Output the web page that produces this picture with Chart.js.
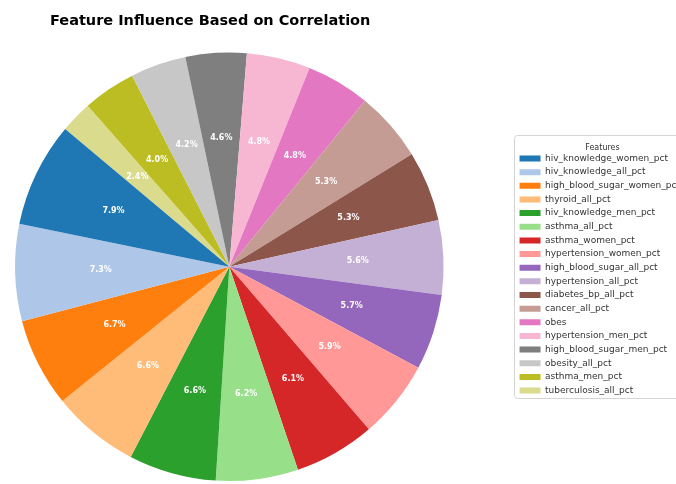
<!DOCTYPE html>
<html>
<head>
<meta charset="utf-8">
<title>Feature Influence Based on Correlation</title>
<script src="https://cdn.jsdelivr.net/npm/chart.js@4"></script>
<style>
  html, body { margin: 0; padding: 0; background: #fff; }
  #wrap { width: 676px; height: 484px; position: relative; }
</style>
</head>
<body>
<div id="wrap"><canvas id="pieChart"></canvas></div>
<script>
const features = [
  'hiv_knowledge_women_pct',
  'hiv_knowledge_all_pct',
  'high_blood_sugar_women_pct',
  'thyroid_all_pct',
  'hiv_knowledge_men_pct',
  'asthma_all_pct',
  'asthma_women_pct',
  'hypertension_women_pct',
  'high_blood_sugar_all_pct',
  'hypertension_all_pct',
  'diabetes_bp_all_pct',
  'cancer_all_pct',
  'obes',
  'hypertension_men_pct',
  'high_blood_sugar_men_pct',
  'obesity_all_pct',
  'asthma_men_pct',
  'tuberculosis_all_pct'
];

// share of total correlation, percent
const influence = [7.9, 7.3, 6.7, 6.6, 6.6, 6.2, 6.1, 5.9, 5.7, 5.6, 5.3, 5.3, 4.8, 4.8, 4.6, 4.2, 4.0, 2.4];

// tab20
const palette = [
  '#1f77b4', '#aec7e8', '#ff7f0e', '#ffbb78', '#2ca02c', '#98df8a',
  '#d62728', '#ff9896', '#9467bd', '#c5b0d5', '#8c564b', '#c49c94',
  '#e377c2', '#f7b6d2', '#7f7f7f', '#c7c7c7', '#bcbd22', '#dbdb8d'
];

const FONT = '"DejaVu Sans", "Liberation Sans", sans-serif';
const PIE_LEFT = 15;

// slices go counter-clockwise from 140deg, so feed them in reverse
const rev = arr => arr.slice().reverse();

// keep the pie in a square box on the left, legend stays where layout put it
const squarePie = {
  id: 'squarePie',
  afterLayout(chart) {
    const a = chart.chartArea;
    a.left = PIE_LEFT;
    a.right = a.left + a.height;
    a.width = a.height;
  }
};

// percentage text inside each wedge
const pctLabels = {
  id: 'pctLabels',
  afterDatasetsDraw(chart) {
    const ctx = chart.ctx;
    const meta = chart.getDatasetMeta(0);
    const values = chart.data.datasets[0].data;
    const total = values.reduce((s, v) => s + v, 0);
    ctx.save();
    ctx.font = 'bold 8px ' + FONT;
    ctx.fillStyle = '#ffffff';
    ctx.textAlign = 'center';
    ctx.textBaseline = 'middle';
    meta.data.forEach((arc, i) => {
      const p = arc.getProps(['x', 'y', 'startAngle', 'endAngle', 'outerRadius'], true);
      const mid = (p.startAngle + p.endAngle) / 2;
      const r = p.outerRadius * 0.6;
      const txt = (values[i] / total * 100).toFixed(1) + '%';
      ctx.fillText(txt, p.x + Math.cos(mid) * r, p.y + Math.sin(mid) * r);
    });
    ctx.restore();
  }
};

// thin rounded frame around the legend
const legendFrame = {
  id: 'legendFrame',
  afterDraw(chart) {
    const lg = chart.legend;
    const hb = lg.legendHitBoxes;
    if (!hb || !hb.length) return;
    const last = hb[hb.length - 1];
    const x = lg.left - 1;
    const y = hb[0].top - 19;
    const w = chart.width - x + 10;
    const h = last.top + last.height + 3 - y;
    const ctx = chart.ctx;
    ctx.save();
    ctx.strokeStyle = '#d4d4d4';
    ctx.lineWidth = 1;
    ctx.beginPath();
    ctx.roundRect(Math.round(x) + 0.5, Math.round(y) + 0.5, w, Math.round(h), 3);
    ctx.stroke();
    ctx.restore();
  }
};

const ctx = document.getElementById('pieChart').getContext('2d');
new Chart(ctx, {
  type: 'pie',
  data: {
    labels: rev(features),
    datasets: [{
      data: rev(influence),
      backgroundColor: rev(palette),
      borderWidth: 0
    }]
  },
  options: {
    responsive: true,
    maintainAspectRatio: false,
    animation: false,
    events: [],
    rotation: -50,
    layout: {
      padding: { left: 50, right: -14, top: 0, bottom: 3 }
    },
    plugins: {
      title: {
        display: true,
        text: 'Feature Influence Based on Correlation',
        align: 'start',
        color: '#000',
        font: { family: FONT, size: 14.5, weight: 'bold' },
        padding: { top: 13, bottom: 22 }
      },
      legend: {
        position: 'right',
        fullSize: false,
        reverse: true,
        title: {
          display: true,
          text: 'Features',
          color: '#333',
          font: { family: FONT, size: 8 },
          padding: { top: 10, bottom: -4 }
        },
        labels: {
          color: '#333',
          font: { family: FONT, size: 9 },
          boxWidth: 21,
          boxHeight: 6,
          padding: 4.65
        }
      },
      tooltip: { enabled: false }
    }
  },
  plugins: [squarePie, pctLabels, legendFrame]
});
</script>
</body>
</html>
